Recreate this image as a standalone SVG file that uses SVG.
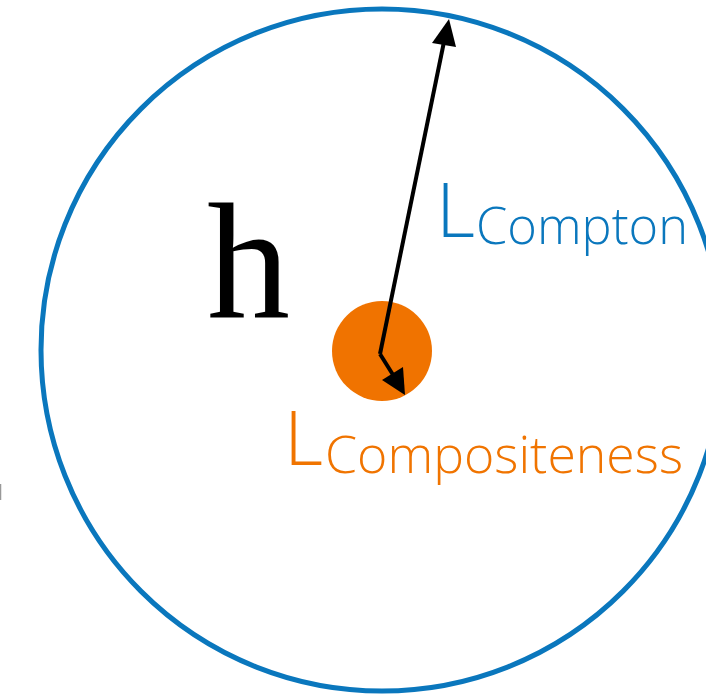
<svg xmlns="http://www.w3.org/2000/svg" width="706" height="695" viewBox="0 0 706 695">
  <style>
    .lbl { font-family: "Open Sans", "Liberation Sans", sans-serif; font-weight: 300; }
    .blue { fill: #0A77BD; }
    .orange { fill: #F07400; }
  </style>
  <defs>
    <marker id="ah" viewBox="0 0 10 10" refX="9" refY="5" markerWidth="6" markerHeight="6" markerUnits="strokeWidth" orient="auto">
      <path d="M0,0 L10,5 L0,10 z" fill="#000"/>
    </marker>
  </defs>
  <rect width="706" height="695" fill="#fff"/>
  <g id="compton-circle">
    <circle cx="382" cy="350" r="341" fill="none" stroke="#0A77BD" stroke-width="5"/>
  </g>
  <g id="composite-core">
    <circle cx="382" cy="351" r="50" fill="#F07300"/>
  </g>
  <g id="edge-mark">
    <line x1="0.5" y1="484" x2="0.5" y2="500" stroke="#999" stroke-width="1.5"/>
  </g>
  <g id="connectors" stroke="#000" stroke-width="4" fill="none">
    <line x1="380" y1="354" x2="446" y2="32"/>
    <polygon points="449,19 432,43 456,47" fill="#000" stroke="none"/>
    <line x1="380" y1="354" x2="395" y2="378"/>
    <polygon points="405,395 382,380 403,367" fill="#000" stroke="none"/>
  </g>
  <g id="h-label">
    <text x="207" y="318" font-family="'Liberation Serif', serif" font-size="166" fill="#000">h</text>
  </g>
  <g id="compton-label">
    <text x="436" y="237" class="lbl blue" font-size="76">L</text>
    <text x="476" y="244" class="lbl blue" font-size="52" textLength="212" lengthAdjust="spacingAndGlyphs">Compton</text>
  </g>
  <g id="compositeness-label">
    <text x="284" y="465" class="lbl orange" font-size="76">L</text>
    <text x="325" y="473" class="lbl orange" font-size="52" textLength="358" lengthAdjust="spacingAndGlyphs">Compositeness</text>
  </g>
</svg>
